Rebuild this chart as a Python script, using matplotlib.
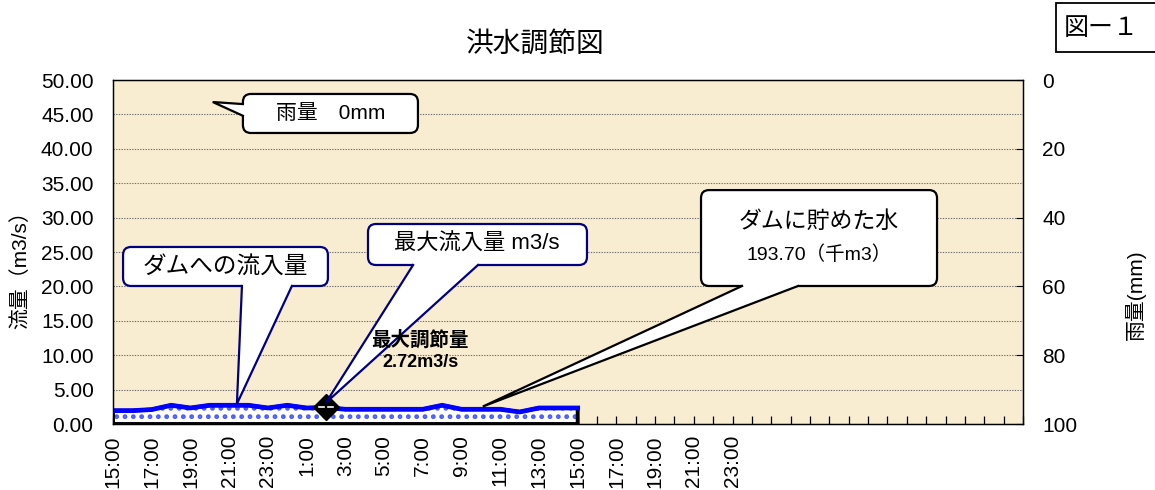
import numpy as np
import matplotlib
matplotlib.use('Agg')
import matplotlib.pyplot as plt
from matplotlib.patches import FancyBboxPatch, Polygon, Rectangle

plt.rcParams['font.family'] = ['Liberation Sans', 'Noto Sans CJK JP', 'DejaVu Sans']
plt.rcParams['hatch.linewidth'] = 2.2

# 48 hourly slots on the category axis, labels every 2 hours up to 23:00 of day 2
n_slots = 48
tick_labels = ['15:00', '17:00', '19:00', '21:00', '23:00', '1:00', '3:00', '5:00',
               '7:00', '9:00', '11:00', '13:00', '15:00', '17:00', '19:00', '21:00', '23:00']

# inflow to dam (m3/s), hourly 15:00 -> 15:00
inflow = [1.94, 1.94, 2.10, 2.72, 2.33, 2.72, 2.72, 2.72, 2.33, 2.72, 2.33, 2.40,
          2.14, 2.14, 2.14, 2.14, 2.14, 2.72, 2.14, 2.14, 2.14, 1.75, 2.33, 2.33, 2.33]
# rainfall (mm), all zero
rain = [0] * 25
peak_idx = 11

fig = plt.figure(figsize=(11.55, 4.9), dpi=100)
ax = fig.add_axes([113 / 1155, 66 / 490, 910 / 1155, 344 / 490])
ax.set_facecolor('#F9EDD1')
ax.set_xlim(0, n_slots - 1)
ax.set_ylim(0, 50)

x = np.arange(len(inflow))

# area (dotted pattern) + line
ax.fill_between(x, 0, inflow, facecolor='white', edgecolor='#4a5cff', hatch='..', linewidth=0, zorder=2)
ax.fill_between(x, 0, inflow, facecolor='none', edgecolor='black', linewidth=2.8, zorder=2)
ax.plot(x, inflow, color='#0000ff', linewidth=3.4, solid_joinstyle='miter', zorder=3)
ax.plot([peak_idx], [inflow[peak_idx]], marker='D', markersize=13, color='black', zorder=4)
ax.plot([peak_idx - 0.35, peak_idx - 0.08], [inflow[peak_idx]] * 2, color='white', lw=1.2, zorder=4)
ax.plot([peak_idx + 0.08, peak_idx + 0.35], [inflow[peak_idx]] * 2, color='white', lw=1.2, zorder=4)

# axes styling
ax.set_yticks(np.arange(0, 50.1, 5))
ax.set_yticklabels(['%.2f' % v for v in np.arange(0, 50.1, 5)])
ax.yaxis.grid(True, color='#707070', linestyle=(0, (1.2, 1.2)), linewidth=0.8)
ax.set_axisbelow(True)
ax.tick_params(axis='y', length=0, pad=14, labelsize=15)
ax.set_xticks(range(n_slots), minor=True)
ax.set_xticks(range(0, 2 * len(tick_labels), 2))
ax.set_xticklabels(tick_labels, rotation=90)
ax.tick_params(axis='x', which='both', direction='in', length=6, width=0.9, pad=8, labelsize=15)
for s in ax.spines.values():
    s.set_linewidth(0.9)

ax2 = ax.twinx()
ax2.set_ylim(100, 0)
ax2.set_yticks(range(0, 101, 20))
ax2.tick_params(axis='y', direction='in', length=5, pad=14, labelsize=15)
ax2.bar(x, rain, width=0.6, color='#3366ff')
for s in ax2.spines.values():
    s.set_linewidth(0.9)

fig.text(535 / 1155, 1 - 45 / 490, '洪水調節図', ha='center', va='center', fontsize=20)
fig.text(20 / 1155, 1 - 265 / 490, '流量（m3/s）', rotation=90, ha='center', va='center', fontsize=15)
fig.text(1135 / 1155, 1 - 295 / 490, '雨量(mm)', rotation=90, ha='center', va='center', fontsize=15)

fig.patches.append(Rectangle((1056 / 1155, 1 - 52 / 490), 0.2, 49 / 490, transform=fig.transFigure,
                             facecolor='white', edgecolor='black', linewidth=1.3))
fig.text(1064 / 1155, 1 - 28 / 490, '図ー１', ha='left', va='center', fontsize=18)

# callouts
fig.canvas.draw()
p0 = ax.transData.transform((0, 0))
p1 = ax.transData.transform((1, 1))
aspect = (p1[0] - p0[0]) / (p1[1] - p0[1])
rx = 8 / (p1[0] - p0[0])


def callout(box, base, tip, edge, side='bottom'):
    x0, y0, x1, y1 = box
    ax.add_patch(FancyBboxPatch((x0, y0), x1 - x0, y1 - y0,
                                boxstyle='round,pad=0,rounding_size=%f' % rx,
                                mutation_aspect=aspect, facecolor='white',
                                edgecolor=edge, linewidth=1.6, zorder=5))
    (ax0, ay0), (ax1, ay1) = base
    if side == 'bottom':
        inner = [(ax1, ay1 + 0.8), (ax0, ay0 + 0.8)]
    else:
        inner = [(ax1 + 0.3, ay1), (ax0 + 0.3, ay0)]
    ax.add_patch(Polygon([(ax0, ay0), tip, (ax1, ay1)] + inner, closed=True,
                         facecolor='white', edgecolor='none', zorder=6))
    ax.plot([ax0, tip[0], ax1], [ay0, tip[1], ay1], color=edge, linewidth=1.6,
            solid_joinstyle='miter', zorder=6)


navy = '#000080'
callout((6.71, 42.3, 15.75, 47.97), [(6.71, 46.5), (6.71, 44.8)], (5.15, 46.8), 'black', side='left')
ax.text(11.23, 45.1, '雨量　0mm', ha='center', va='center', fontsize=15, zorder=7)

callout((0.52, 20.06, 11.10, 25.73), [(6.66, 20.06), (9.24, 20.06)], (6.4, inflow[6] + 0.2), navy)
ax.text(5.81, 22.9, 'ダムへの流入量', ha='center', va='center', fontsize=17, zorder=7)

callout((13.17, 23.11, 24.48, 29.07), [(15.5, 23.11), (18.85, 23.11)],
        (peak_idx, inflow[peak_idx] + 0.7), navy)
ax.text(18.8, 26.1, '最大流入量 m3/s', ha='center', va='center', fontsize=16, zorder=7)

callout((30.37, 20.06, 42.56, 34.0), [(32.49, 20.06), (35.38, 20.06)], (19.1, inflow[19] + 0.4), 'black')
ax.text(36.46, 29.4, 'ダムに貯めた水', ha='center', va='center', fontsize=16.5, zorder=7)
ax.text(36.46, 24.6, '193.70（千m3）', ha='center', va='center', fontsize=14, zorder=7)

ax.text(15.86, 12.2, '最大調節量', ha='center', va='center', fontsize=14, fontweight='bold', zorder=7)
ax.text(15.86, 9.0, '2.72m3/s', ha='center', va='center', fontsize=13, fontweight='bold', zorder=7)

fig.savefig('out.png', dpi=100)
